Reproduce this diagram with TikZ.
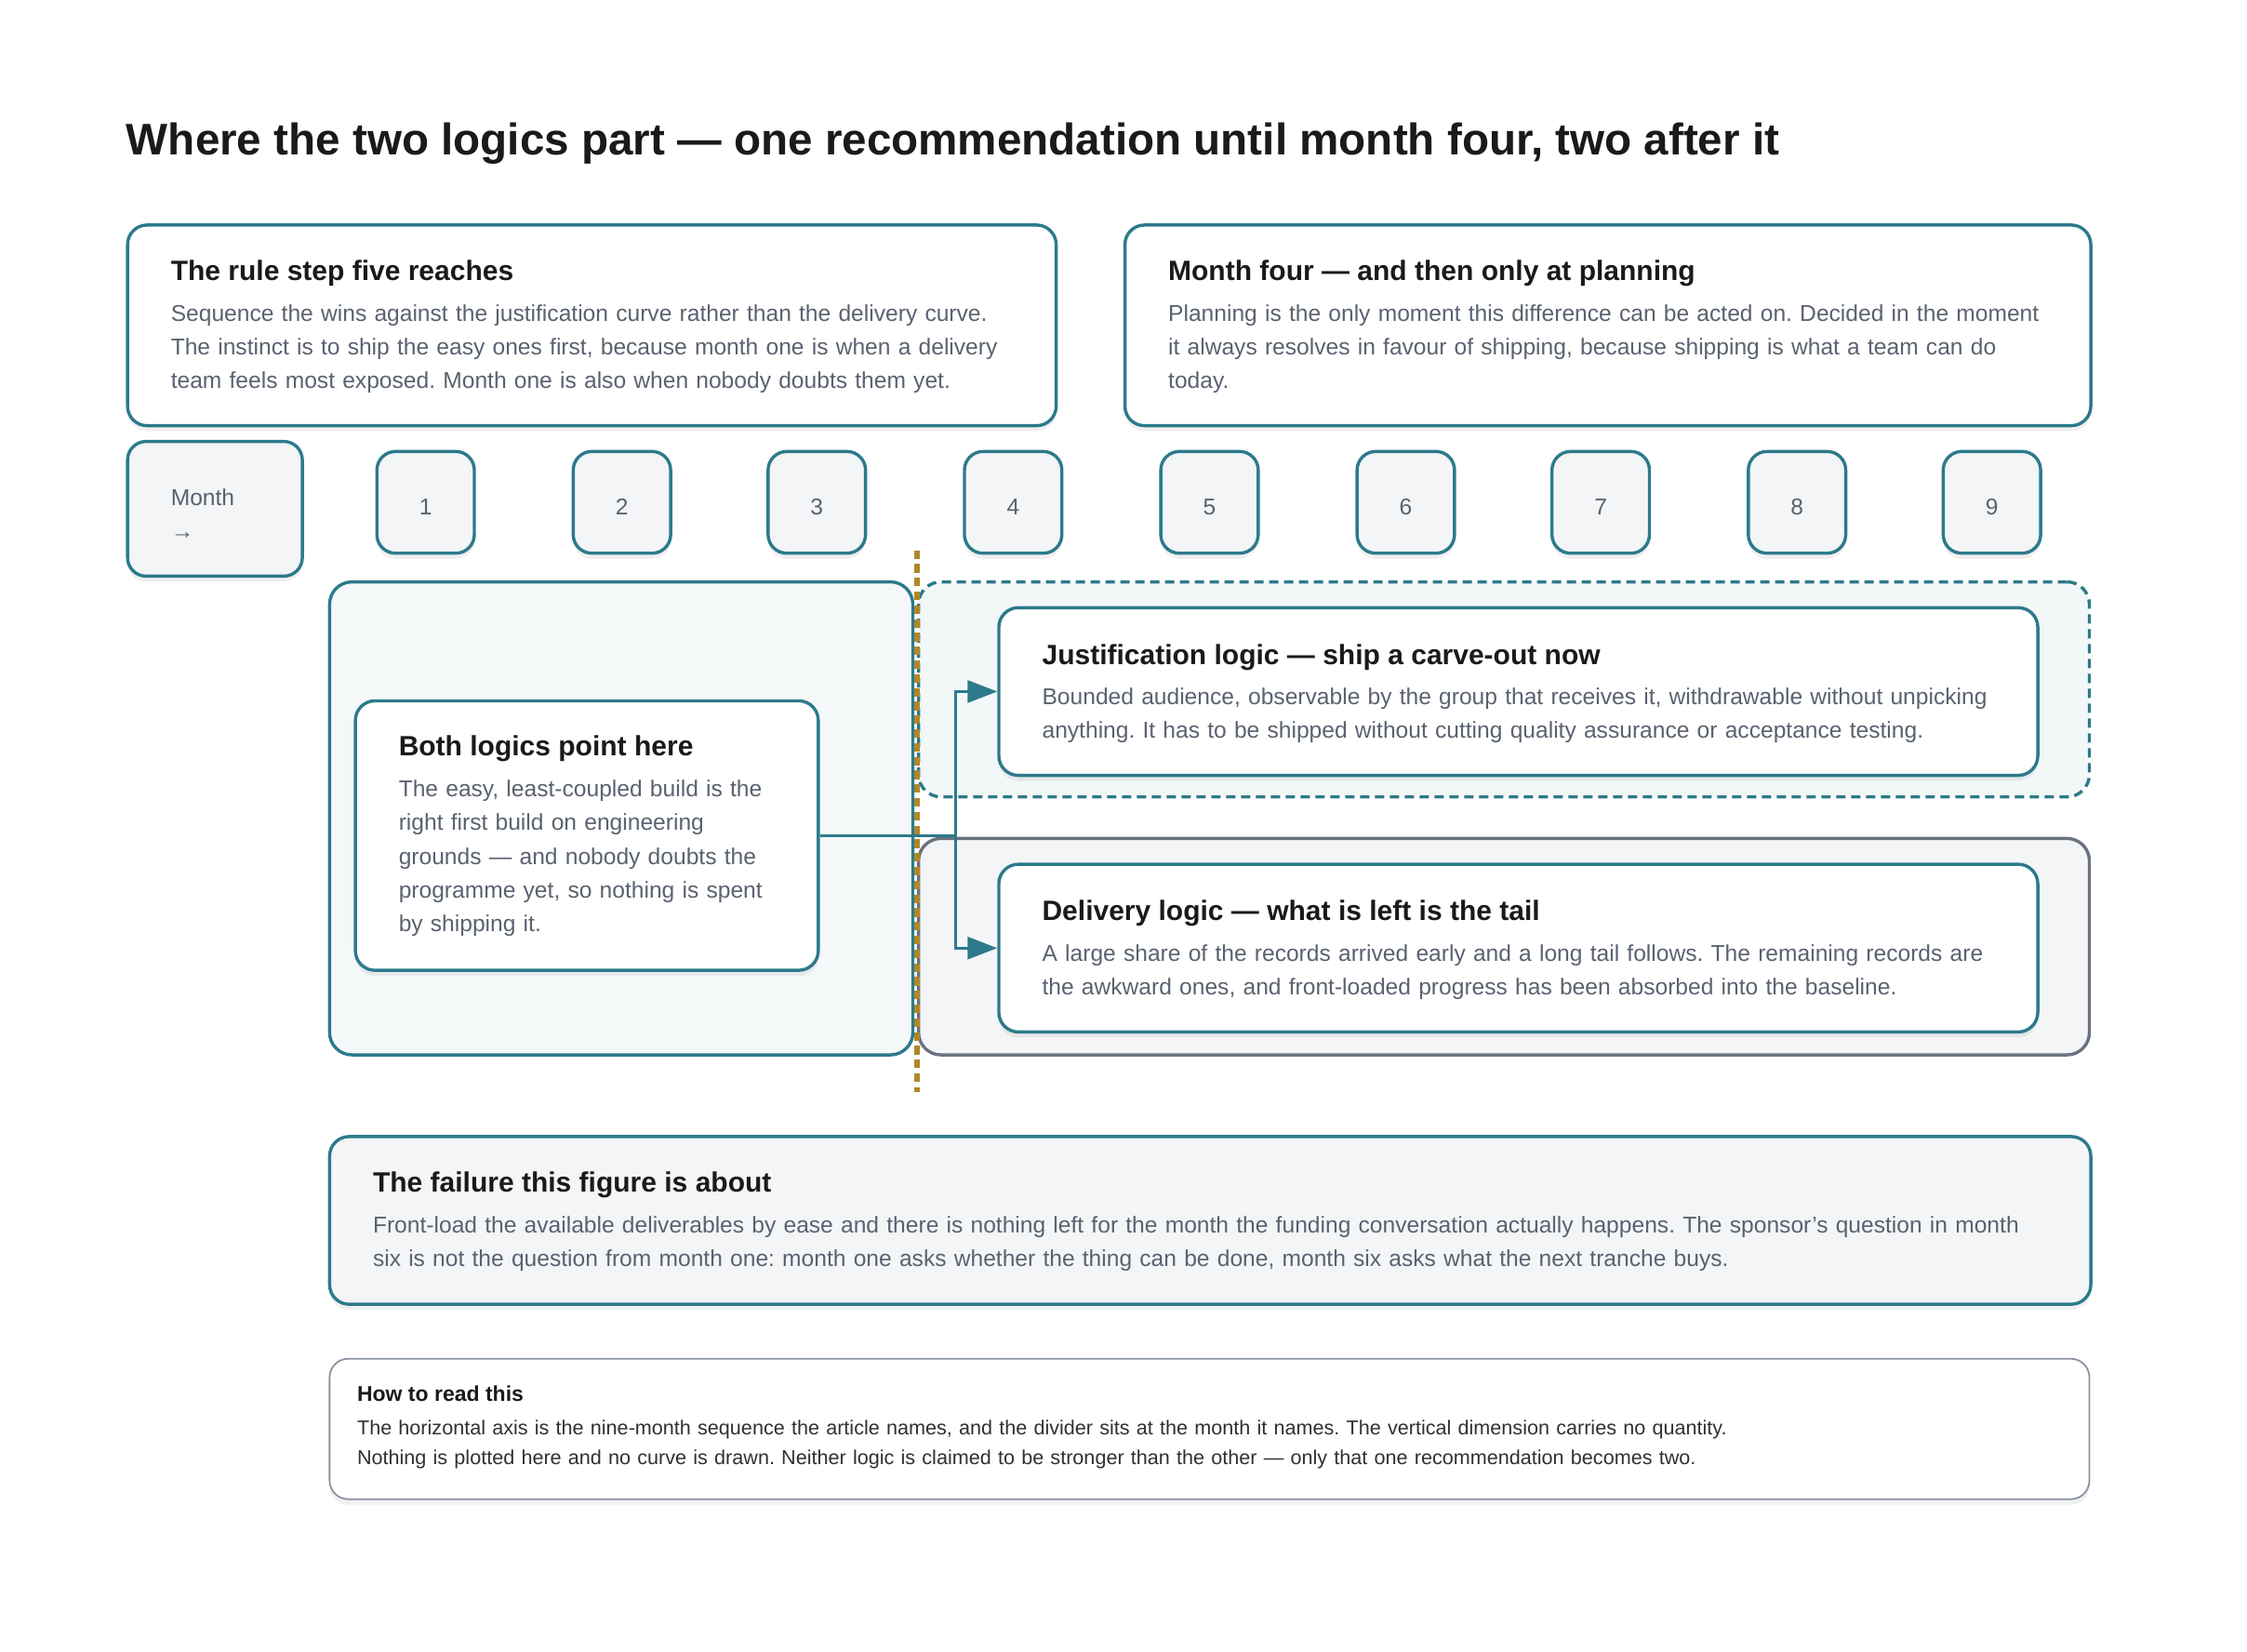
\documentclass[tikz,border=0pt]{standalone}
\usepackage{fontspec}
\setmainfont{Liberation Sans}
\usetikzlibrary{arrows.meta,fit,shadows}
\definecolor{tealc}{HTML}{2C7A8B}
\definecolor{grayc}{HTML}{6B7280}
\definecolor{howc}{HTML}{8A93A3}
\definecolor{goldc}{HTML}{B0872A}
\definecolor{headc}{HTML}{1A1A1A}
\definecolor{bodyc}{HTML}{5A6270}
\definecolor{fillg}{HTML}{F3F5F7}
\definecolor{fillt}{HTML}{F4F8F9}
\definecolor{fillj}{HTML}{F2F7F8}
\frenchspacing
\begin{document}
\begin{tikzpicture}[x=0.770408pt,y=-0.770408pt,
  shad/.style={drop shadow={shadow xshift=0pt,shadow yshift=-3pt,fill=black,opacity=0.06}},
  card/.style={draw=tealc,line width=1.7pt,rounded corners=10.5pt,fill=white,inner sep=0pt,shad},
  numbox/.style={draw=tealc,line width=1.7pt,rounded corners=10pt,fill=fillg,inner sep=0pt,shad},
  numlab/.style={anchor=base,inner sep=0pt,text=bodyc,font=\fontsize{12.3}{15}\selectfont},
  grp/.style={draw=tealc,line width=1.7pt,rounded corners=12pt,fill=fillt,inner sep=0pt},
  dgrp/.style={draw=tealc,line width=1.7pt,rounded corners=12pt,fill=fillj,inner sep=0pt,dash pattern=on 5pt off 3pt},
  ggrp/.style={draw=grayc,line width=1.7pt,rounded corners=12pt,fill=fillg,inner sep=0pt},
  howbox/.style={draw=howc,line width=0.9pt,rounded corners=10pt,fill=white,inner sep=0pt,shad},
  head/.style={anchor=base west,inner sep=0pt,font=\fontsize{15}{18}\selectfont\bfseries,text=headc},
  body/.style={anchor=base west,inner sep=0pt,font=\fontsize{12.3}{18.1}\selectfont,text=bodyc,text width=620pt,align=left},
  hhead/.style={anchor=base west,inner sep=0pt,font=\fontsize{11.5}{14}\selectfont\bfseries,text=headc},
  hbody/.style={anchor=base west,inner sep=0pt,font=\fontsize{10.8}{16.2}\selectfont,text=headc!90,text width=900pt,align=left},
  divider/.style={draw=goldc,line width=3pt,dash pattern=on 4.6pt off 2.8pt},
  conn/.style={draw=tealc,line width=1.35pt}
]
\useasboundingbox (0,0) rectangle (1568,1152.63);

% title
\node[anchor=base west,inner sep=0pt,font=\fontsize{23.8}{28}\selectfont\bfseries,text=headc] (title) at (88,108)
  {Where the two logics part — one recommendation until month four, two after it};

% top cards
\node[card,fit={(89,157) (737,297)}] (rule) {};
\node[head] (ruleh) at (119,195.5) {The rule step five reaches};
\node[body] (ruleb) at (119,224) {Sequence the wins against the justification curve rather than the delivery curve.\\
The instinct is to ship the easy ones first, because month one is when a delivery\\
team feels most exposed. Month one is also when nobody doubts them yet.};

\node[card,fit={(785,157) (1459,297)}] (four) {};
\node[head] (fourh) at (815,195.5) {Month four — and then only at planning};
\node[body] (fourb) at (815,224) {Planning is the only moment this difference can be acted on. Decided in the moment\\
it always resolves in favour of shipping, because shipping is what a team can do\\
today.};

% month axis
\node[numbox,fit={(89,308) (211,402)}] (month) {};
\node[body] (monthl) at (119,352.5) {Month\\→};
\foreach \i/\x in {1/297,2/434,3/570,4/707,5/844,6/981,7/1117,8/1254,9/1390}{
  \node[numbox,fit={(\x-34,315) (\x+34,386)}] (m\i) {};
  \node[numlab] (n\i) at (\x,359.5) {\i};
}

% groups
\node[grp,fit={(230,406) (637,736)}] (leftgrp) {};
\node[dgrp,fit={(641,406) (1458,556)}] (justgrp) {};
\node[ggrp,fit={(641,585) (1458,736)}] (delgrp) {};

% divider
\coordinate (dtop) at (640,384);
\coordinate (dbot) at (640,762);
\draw[divider] (dtop) -- (dbot);

% inner cards
\node[card,fit={(248,489) (571,677)}] (both) {};
\node[head] (bothh) at (278,527.5) {Both logics point here};
\node[body] (bothb) at (278,556) {The easy, least-coupled build is the\\
right first build on engineering\\
grounds — and nobody doubts the\\
programme yet, so nothing is spent\\
by shipping it.};

\node[card,fit={(697,424) (1422,541)}] (just) {};
\node[head] (justh) at (727,463.5) {Justification logic — ship a carve-out now};
\node[body] (justb) at (727,491.5) {Bounded audience, observable by the group that receives it, withdrawable without unpicking\\
anything. It has to be shipped without cutting quality assurance or acceptance testing.};

\node[card,fit={(697,603) (1422,720)}] (deliv) {};
\node[head] (delivh) at (727,642.5) {Delivery logic — what is left is the tail};
\node[body] (delivb) at (727,670.5) {A large share of the records arrived early and a long tail follows. The remaining records are\\
the awkward ones, and front-loaded progress has been absorbed into the baseline.};

% connectors
\coordinate (split) at (667,583);
\draw[conn] (both.east) -- (split);
\draw[conn,-{Triangle[length=16pt,width=12pt]}] (split) |- (just.west);
\draw[conn,-{Triangle[length=16pt,width=12pt]}] (split) |- (deliv.west);

% failure
\node[card,fill=fillg,fit={(230,793) (1459,910)}] (fail) {};
\node[head] (failh) at (260,832) {The failure this figure is about};
\node[body,text width=1000pt] (failb) at (260,860) {Front-load the available deliverables by ease and there is nothing left for the month the funding conversation actually happens. The sponsor’s question in month\\
six is not the question from month one: month one asks whether the thing can be done, month six asks what the next tranche buys.};

% how to read
\node[howbox,fit={(230,948) (1458,1046)}] (how) {};
\node[hhead] (howh) at (249,977.5) {How to read this};
\node[hbody] (howb) at (249,1001) {The horizontal axis is the nine-month sequence the article names, and the divider sits at the month it names. The vertical dimension carries no quantity.\\
Nothing is plotted here and no curve is drawn. Neither logic is claimed to be stronger than the other — only that one recommendation becomes two.};
\end{tikzpicture}
\end{document}
